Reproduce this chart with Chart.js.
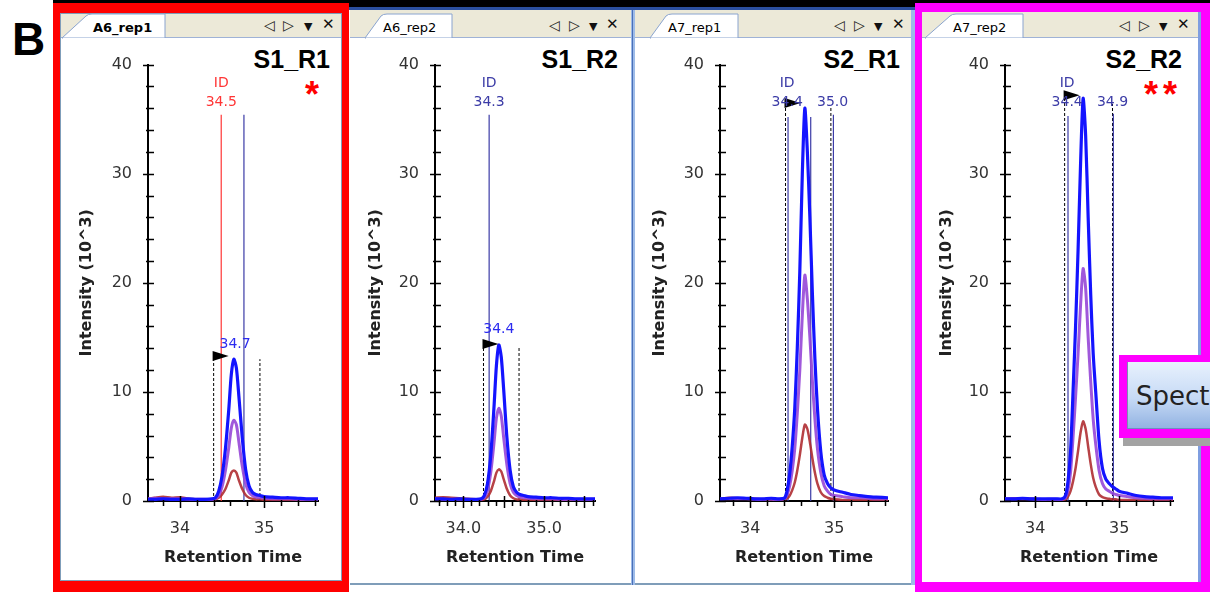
<!DOCTYPE html>
<html><head><meta charset="utf-8">
<script src="https://cdn.jsdelivr.net/npm/chart.js@4.4.1/dist/chart.umd.min.js"></script>
<style>
body{margin:0;width:1210px;height:592px;position:relative;background:#fff;overflow:hidden;font-family:"DejaVu Sans",sans-serif;}
.t{position:absolute;white-space:nowrap;}
canvas{position:absolute;}
.tab{font:13px/13px "DejaVu Sans";color:#000;top:21px;}
.ico{font:14px/14px "DejaVu Sans";color:#222;top:18px;}
.dn{font:11px/11px "DejaVu Sans";color:#111;top:21px;}
.x{font:bold 15px/15px "DejaVu Sans";color:#111;top:17px;}
.ttl{font:bold 25px/25px "Liberation Sans";color:#000;top:47px;text-align:right;width:100px;}
.ast{font:bold 36px/36px "Liberation Sans";color:#f00;top:77px;}
</style></head><body>
<svg width="1210" height="592" style="position:absolute;left:0;top:0">
 <rect x="53" y="0" width="1157" height="7" fill="#000"/>
 <rect x="349" y="7" width="566" height="3" fill="#2b4f9e"/>
 <rect x="350" y="10" width="565" height="28" fill="#ece9d8"/>
 <rect x="350" y="38" width="565" height="545" fill="#fff"/>
 <line x1="350" y1="37.5" x2="915" y2="37.5" stroke="#9fb2d6"/>
 <rect x="350" y="583" width="565" height="2" fill="#7f9db9"/>
 <rect x="631" y="10" width="4" height="575" fill="#9dbbe8"/>
 <rect x="632" y="10" width="1" height="575" fill="#4a6fb8"/>
 <rect x="911" y="10" width="4" height="575" fill="#9dbbe8"/>
 <rect x="53" y="3" width="296" height="589" fill="#ff0000"/>
 <rect x="60.5" y="13.5" width="281" height="567" fill="#fff" stroke="#7f9db9"/>
 <rect x="61" y="14" width="280" height="24" fill="#ece9d8"/>
 <line x1="61" y1="37.5" x2="341" y2="37.5" stroke="#9fb2d6"/>
 <rect x="915" y="3" width="295" height="589" fill="#ff00ff"/>
 <rect x="922" y="12" width="279" height="570" fill="#fff"/>
 <rect x="1198" y="12" width="3" height="570" fill="#7f9ee0"/>
 <rect x="922" y="12" width="276" height="26" fill="#ece9d8"/>
 <line x1="922" y1="37.5" x2="1198" y2="37.5" stroke="#9fb2d6"/>
 <path d="M62,38 L86,16 Q88,14 92,14 L165,14 L165,38 Z" fill="#fff" stroke="#8aa4cf"/>
 <path d="M365,38 L381,16 Q383,14 387,14 L452,14 L452,38 Z" fill="#fff" stroke="#8aa4cf"/>
 <path d="M650,38 L666,16 Q668,14 672,14 L738,14 L738,38 Z" fill="#fff" stroke="#8aa4cf"/>
 <path d="M925,38 L950,16 Q952,14 956,14 L1023,14 L1023,38 Z" fill="#fff" stroke="#8aa4cf"/>
 <rect x="63" y="38" width="102" height="3" fill="#fff"/>
 <rect x="366" y="38" width="86" height="3" fill="#fff"/>
 <rect x="651" y="38" width="87" height="3" fill="#fff"/>
 <rect x="926" y="38" width="97" height="3" fill="#fff"/>
</svg>
<div class="t" style="left:12px;top:16px;font:bold 46px/46px 'Liberation Sans';color:#000;">B</div>
<div class="t tab" style="left:93px;font-weight:bold;">A6_rep1</div>
<div class="t tab" style="left:383px;">A6_rep2</div>
<div class="t tab" style="left:668px;">A7_rep1</div>
<div class="t tab" style="left:953px;">A7_rep2</div>
<div class="t ico" style="left:264px;">◁</div><div class="t ico" style="left:283px;">▷</div><div class="t dn" style="left:304px;">▼</div><div class="t x" style="left:322px;">✕</div>
<div class="t ico" style="left:549px;">◁</div><div class="t ico" style="left:569px;">▷</div><div class="t dn" style="left:589px;">▼</div><div class="t x" style="left:606px;">✕</div>
<div class="t ico" style="left:834px;">◁</div><div class="t ico" style="left:854px;">▷</div><div class="t dn" style="left:874px;">▼</div><div class="t x" style="left:892px;">✕</div>
<div class="t ico" style="left:1119px;">◁</div><div class="t ico" style="left:1139px;">▷</div><div class="t dn" style="left:1159px;">▼</div><div class="t x" style="left:1177px;">✕</div>
<div class="t ttl" style="left:230px;">S1_R1</div>
<div class="t ttl" style="left:518px;">S1_R2</div>
<div class="t ttl" style="left:800px;">S2_R1</div>
<div class="t ttl" style="left:1082px;">S2_R2</div>
<div class="t ast" style="left:305px;">*</div>
<div class="t ast" style="left:1144px;letter-spacing:5px;">**</div>

<canvas id="c1" width="279" height="542" style="left:63px;top:39px"></canvas>
<canvas id="c2" width="280" height="542" style="left:352px;top:39px"></canvas>
<canvas id="c3" width="278" height="542" style="left:636px;top:39px"></canvas>
<canvas id="c4" width="277" height="542" style="left:923px;top:39px"></canvas>

<div style="position:absolute;left:1123px;top:437px;width:87px;height:9px;background:#a3a3a3"></div>
<div style="position:absolute;left:1119px;top:355px;width:91px;height:83px;background:#ff00ff"></div>
<div style="position:absolute;left:1127px;top:362px;width:83px;height:67px;background:linear-gradient(#e8f1fd,#c6daf5 55%,#93b3e2);border-left:1px solid #7a8fb0;border-bottom:1px solid #6f8cc0;box-sizing:border-box"></div>
<div class="t" style="left:1136px;top:383px;font:26px/26px 'DejaVu Sans';color:#222;">Spect</div>

<script>
// ---- shared axis ticks ----
const yTickVals = [0, 10, 20, 30, 40];

// ---- Panel 1: A6_rep1 / S1_R1 ----
const times1  = [33.62,33.7,33.8,33.9,34.0,34.1,34.2,34.3,34.38,34.42,34.46,34.5,34.54,34.58,34.61,34.64,34.67,34.7,34.74,34.78,34.82,34.86,34.9,34.95,35.0,35.1,35.2,35.3,35.4,35.5,35.64];
const blue1   = [0.15,0.15,0.2,0.15,0.15,0.2,0.15,0.15,0.2,0.3,0.9,2.3,4.8,8.4,11.6,13.0,12.2,9.6,5.8,2.9,1.4,0.8,0.6,0.5,0.4,0.35,0.3,0.3,0.25,0.2,0.2];
const purple1 = [0.2,0.25,0.2,0.2,0.2,0.15,0.15,0.15,0.15,0.2,0.5,1.3,2.8,4.9,6.7,7.4,7.0,5.4,3.2,1.6,0.8,0.5,0.35,0.3,0.25,0.2,0.2,0.2,0.15,0.15,0.15];
const red1    = [0.2,0.3,0.4,0.3,0.35,0.2,0.15,0.15,0.1,0.15,0.3,0.6,1.1,1.9,2.6,2.8,2.6,1.9,1.1,0.55,0.3,0.2,0.15,0.15,0.1,0.1,0.1,0.1,0.1,0.1,0.1];
const xTickVals1 = [34, 35];
const xTickLabels1 = ['34', '35'];
const navyX1 = [34.76], navyTop1 = [35.4];
const redX1 = [34.49], redTop1 = [35.4];
const boundX1 = [34.40, 34.95], boundTop1 = [13.2, 13.0];
const idText1 = ['ID', '34.5'], idX1 = [34.49, 34.49], idY1 = [37.95, 36.25];
const apexText1 = ['34.7'], apexX1 = [34.655], apexY1 = [14.0];

// ---- Panel 2: A6_rep2 / S1_R2 ----
const times2  = [33.65,33.75,33.85,33.95,34.05,34.15,34.22,34.26,34.3,34.34,34.38,34.41,34.44,34.47,34.5,34.54,34.58,34.62,34.66,34.7,34.75,34.8,34.9,35.0,35.1,35.2,35.3,35.4,35.5,35.63];
const blue2   = [0.2,0.2,0.15,0.2,0.15,0.15,0.2,0.5,1.6,4.2,8.6,12.4,14.3,13.2,10.2,5.8,2.8,1.3,0.8,0.6,0.5,0.4,0.35,0.3,0.3,0.25,0.25,0.2,0.2,0.2];
const purple2 = [0.2,0.15,0.15,0.15,0.15,0.1,0.15,0.3,1.0,2.6,5.3,7.6,8.5,7.8,5.8,3.3,1.6,0.8,0.5,0.35,0.3,0.25,0.2,0.2,0.2,0.15,0.15,0.15,0.15,0.15];
const red2    = [0.3,0.35,0.3,0.25,0.2,0.15,0.1,0.15,0.4,0.9,1.8,2.6,2.9,2.7,2.0,1.1,0.5,0.25,0.15,0.15,0.1,0.1,0.1,0.1,0.1,0.1,0.1,0.1,0.1,0.1];
const xTickVals2 = [34, 35];
const xTickLabels2 = ['34.0', '35.0'];
const navyX2 = [34.32], navyTop2 = [35.4];
const boundX2 = [34.25, 34.69], boundTop2 = [14.3, 14.2];
const idText2 = ['ID', '34.3'], idX2 = [34.32, 34.32], idY2 = [37.95, 36.25];
const apexText2 = ['34.4'], apexX2 = [34.44], apexY2 = [15.4];

// ---- Panel 3: A7_rep1 / S2_R1 ----
const times3  = [33.64,33.75,33.85,33.95,34.05,34.15,34.25,34.35,34.41,34.44,34.47,34.5,34.53,34.56,34.59,34.62,34.65,34.68,34.71,34.74,34.77,34.8,34.84,34.88,34.92,34.96,35.0,35.1,35.2,35.3,35.4,35.5,35.64];
const blue3   = [0.2,0.25,0.3,0.25,0.2,0.2,0.25,0.2,0.3,1.0,2.5,5.0,8.5,14,21,30,36.0,32,26,19,13,8.5,4.5,2.4,1.6,1.2,1.0,0.8,0.6,0.5,0.4,0.35,0.3];
const purple3 = [0.2,0.2,0.2,0.2,0.15,0.15,0.15,0.15,0.2,0.6,1.4,2.8,4.8,8,12,17,20.7,18.5,15,11,7.5,4.8,2.6,1.4,0.9,0.6,0.5,0.4,0.3,0.3,0.25,0.2,0.2];
const red3    = [0.2,0.3,0.25,0.2,0.2,0.15,0.15,0.15,0.15,0.25,0.5,1.0,1.7,2.8,4.2,5.8,7.0,6.6,5.4,3.9,2.6,1.6,0.8,0.45,0.3,0.2,0.15,0.1,0.1,0.1,0.1,0.1,0.1];
const xTickVals3 = [34, 35];
const xTickLabels3 = ['34', '35'];
const navyX3 = [34.45, 34.72, 34.99], navyTop3 = [35.2, 35.2, 35.4];
const boundX3 = [34.42, 34.96], boundTop3 = [36.4, 36.1];
const idText3 = ['ID', '34.4', '35.0'], idX3 = [34.44, 34.44, 34.98], idY3 = [37.95, 36.25, 36.25];
const apexText3 = [], apexX3 = [], apexY3 = [];

// ---- Panel 4: A7_rep2 / S2_R2 ----
const times4  = [33.64,33.75,33.85,33.95,34.05,34.15,34.25,34.32,34.36,34.39,34.42,34.45,34.48,34.51,34.54,34.57,34.6,34.63,34.66,34.69,34.72,34.76,34.8,34.84,34.88,34.92,34.96,35.0,35.1,35.2,35.3,35.4,35.5,35.64];
const blue4   = [0.2,0.2,0.25,0.2,0.2,0.2,0.2,0.2,0.5,1.8,4.5,10,16,23,31,36.9,33.5,26,19,13.5,10,5.5,3.0,2.0,1.6,1.3,1.1,0.9,0.7,0.5,0.4,0.35,0.3,0.3];
const purple4 = [0.2,0.2,0.2,0.2,0.15,0.15,0.15,0.15,0.3,1.0,2.6,5.8,9.5,13.5,18,21.3,19.5,15,11,7.5,5.2,2.8,1.6,1.1,0.9,0.7,0.6,0.5,0.4,0.3,0.25,0.2,0.2,0.2];
const red4    = [0.2,0.25,0.2,0.2,0.15,0.15,0.1,0.1,0.15,0.4,0.9,1.8,3.0,4.6,6.3,7.3,6.6,5.0,3.4,2.1,1.3,0.6,0.35,0.25,0.2,0.15,0.15,0.1,0.1,0.1,0.1,0.1,0.1,0.1];
const xTickVals4 = [34, 35];
const xTickLabels4 = ['34', '35'];
const navyX4 = [34.39, 34.93], navyTop4 = [35.3, 35.5];
const boundX4 = [34.35, 34.92], boundTop4 = [37.1, 36.4];
const idText4 = ['ID', '34.4', '34.9'], idX4 = [34.38, 34.38, 34.92], idY4 = [37.95, 36.25, 36.25];
const apexText4 = [], apexX4 = [], apexY4 = [];

const BLUE = '#1414ff', PURPLE = 'rgba(150,70,215,0.9)', DRED = 'rgba(175,45,50,0.9)', NAVY = '#3b3ba6';

function xy(ts, vs) { return ts.map((t, i) => ({x: t, y: vs[i]})); }

function makePanel(p) {
  const datasets = [];
  const vline = (x, top, color, dash) => ({
    data: [{x: x, y: 0}, {x: x, y: top}], showLine: true, pointRadius: 0,
    borderColor: color, borderWidth: dash ? 1 : 1.2, borderDash: dash ? [3, 2] : []
  });
  (p.redX || []).forEach((x, i) => datasets.push(vline(x, p.redTop[i], '#ff3535', false)));
  p.navyX.forEach((x, i) => datasets.push(vline(x, p.navyTop[i], NAVY, false)));
  p.boundX.forEach((x, i) => datasets.push(vline(x, p.boundTop[i], '#000', true)));
  datasets.unshift(
    {data: xy(p.times, p.blue), showLine: true, pointRadius: 0, borderColor: BLUE, borderWidth: 3.2, tension: 0.25},
    {data: xy(p.times, p.purple), showLine: true, pointRadius: 0, borderColor: PURPLE, borderWidth: 3, tension: 0.25},
    {data: xy(p.times, p.red), showLine: true, pointRadius: 0, borderColor: DRED, borderWidth: 2.5, tension: 0.25}
  );

  const deco = {
    id: 'deco',
    afterDatasetsDraw(chart) {
      const ctx = chart.ctx, xs = chart.scales.x, ys = chart.scales.y, ca = chart.chartArea;
      ctx.save();
      ctx.strokeStyle = '#000'; ctx.lineWidth = 1.5;
      ctx.beginPath();
      for (let v = 0; v <= 40; v += 2) {
        const py = Math.round(ys.getPixelForValue(v)) + 0.5;
        const major = v % 10 === 0;
        ctx.moveTo(ca.left - (major ? 5 : 2), py); ctx.lineTo(ca.left + 6, py);
      }
      const n0 = Math.ceil(p.xMin / p.minor - 1e-6), n1 = Math.floor(p.xMax / p.minor + 1e-6);
      for (let k = n0; k <= n1; k++) {
        const v = k * p.minor;
        const r = v / p.major;
        const major = Math.abs(r - Math.round(r)) < 1e-6;
        const px = Math.round(xs.getPixelForValue(v)) + 0.5;
        ctx.moveTo(px, ca.bottom - (major ? 5 : 1)); ctx.lineTo(px, ca.bottom + (major ? 7 : 5));
      }
      ctx.stroke();
      // peak boundary flag
      const fx = xs.getPixelForValue(p.boundX[0]), fy = ys.getPixelForValue(p.boundTop[0]) - 1;
      ctx.fillStyle = '#000';
      ctx.beginPath();
      ctx.moveTo(fx - 1, fy - 5); ctx.lineTo(fx + 15, fy); ctx.lineTo(fx - 1, fy + 5); ctx.closePath(); ctx.fill();
      // RT / ID labels
      ctx.font = '14px "DejaVu Sans"'; ctx.textAlign = 'center'; ctx.textBaseline = 'alphabetic';
      ctx.fillStyle = p.idColor;
      p.idText.forEach((s, i) => ctx.fillText(s, xs.getPixelForValue(p.idX[i]), ys.getPixelForValue(p.idY[i])));
      ctx.fillStyle = '#2b2bf0';
      p.apexText.forEach((s, i) => ctx.fillText(s, xs.getPixelForValue(p.apexX[i]), ys.getPixelForValue(p.apexY[i])));
      ctx.restore();
    }
  };

  new Chart(document.getElementById(p.canvas), {
    type: 'scatter',
    data: {datasets},
    plugins: [deco],
    options: {
      responsive: false, animation: false, devicePixelRatio: 1, events: [],
      layout: {padding: {left: 0, top: 14, right: p.padRight, bottom: 0}},
      plugins: {legend: {display: false}, tooltip: {enabled: false}},
      scales: {
        x: {
          type: 'linear', min: p.xMin, max: p.xMax,
          afterBuildTicks: s => { s.ticks = p.xTicks.map(v => ({value: v})); },
          afterFit: s => { s.height = 80; },
          grid: {display: false, drawTicks: false},
          border: {display: true, color: '#000', width: 2},
          ticks: {padding: 18, color: '#333', font: {family: 'DejaVu Sans', size: 16}, autoSkip: false, maxRotation: 0,
                  callback: (v, i) => p.xLabels[i]},
          title: {display: true, text: 'Retention Time', color: '#222', padding: {top: 0, bottom: 14},
                  font: {family: 'DejaVu Sans', size: 16, weight: 'bold'}}
        },
        y: {
          min: 0, max: 40,
          afterBuildTicks: s => { s.ticks = yTickVals.map(v => ({value: v})); },
          afterFit: s => { s.width = p.yWidth; },
          grid: {display: false, drawTicks: false},
          border: {display: true, color: '#000', width: 2},
          ticks: {padding: 16, color: '#333', font: {family: 'DejaVu Sans', size: 16}},
          title: {display: true, text: 'Intensity (10^3)', color: '#222', padding: {top: 14, bottom: 0},
                  font: {family: 'DejaVu Sans', size: 16, weight: 'bold'}}
        }
      }
    }
  });
}

makePanel({canvas: 'c1', times: times1, blue: blue1, purple: purple1, red: red1, xMin: 33.62, xMax: 35.64,
  xTicks: xTickVals1, xLabels: xTickLabels1, minor: 0.2, major: 1, yWidth: 85, padRight: 24,
  navyX: navyX1, navyTop: navyTop1, redX: redX1, redTop: redTop1, boundX: boundX1, boundTop: boundTop1,
  idText: idText1, idX: idX1, idY: idY1, idColor: '#ff3535', apexText: apexText1, apexX: apexX1, apexY: apexY1});
makePanel({canvas: 'c2', times: times2, blue: blue2, purple: purple2, red: red2, xMin: 33.65, xMax: 35.63,
  xTicks: xTickVals2, xLabels: xTickLabels2, minor: 0.1, major: 0.5, yWidth: 83, padRight: 37,
  navyX: navyX2, navyTop: navyTop2, boundX: boundX2, boundTop: boundTop2,
  idText: idText2, idX: idX2, idY: idY2, idColor: NAVY, apexText: apexText2, apexX: apexX2, apexY: apexY2});
makePanel({canvas: 'c3', times: times3, blue: blue3, purple: purple3, red: red3, xMin: 33.64, xMax: 35.64,
  xTicks: xTickVals3, xLabels: xTickLabels3, minor: 0.2, major: 1, yWidth: 84, padRight: 26,
  navyX: navyX3, navyTop: navyTop3, boundX: boundX3, boundTop: boundTop3,
  idText: idText3, idX: idX3, idY: idY3, idColor: NAVY, apexText: apexText3, apexX: apexX3, apexY: apexY3});
makePanel({canvas: 'c4', times: times4, blue: blue4, purple: purple4, red: red4, xMin: 33.64, xMax: 35.64,
  xTicks: xTickVals4, xLabels: xTickLabels4, minor: 0.2, major: 1, yWidth: 82, padRight: 27,
  navyX: navyX4, navyTop: navyTop4, boundX: boundX4, boundTop: boundTop4,
  idText: idText4, idX: idX4, idY: idY4, idColor: NAVY, apexText: apexText4, apexX: apexX4, apexY: apexY4});
</script>
</body></html>
